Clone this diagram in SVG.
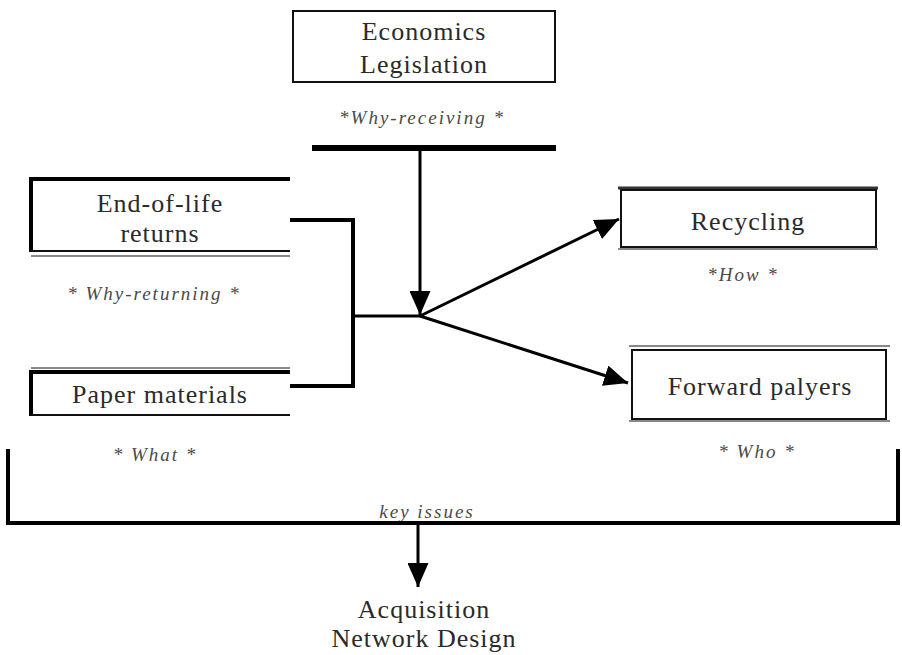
<svg xmlns="http://www.w3.org/2000/svg" width="902" height="655" viewBox="0 0 902 655">
<defs>
<style>
.t{font-family:'Liberation Serif','DejaVu Serif',serif;font-size:26px;letter-spacing:1px;fill:#2a2a2a;text-anchor:middle}
.i{font-family:'Liberation Serif','DejaVu Serif',serif;font-size:19px;letter-spacing:2px;font-style:italic;fill:#4a4a4a;text-anchor:middle}
.box{fill:#fff;stroke:#111;stroke-width:2}
.ln{fill:none;stroke:#000;stroke-width:4}
.gr{stroke:#888;stroke-width:2;fill:none}
</style>
<marker id="ah" markerWidth="8" markerHeight="7" refX="8" refY="3.5" orient="auto" markerUnits="strokeWidth">
<path d="M0,0 L8,3.5 L0,7 z" fill="#000"/>
</marker>
</defs>
<rect width="902" height="655" fill="#fff"/>

<g id="economics">
<rect class="box" x="293" y="11" width="262" height="71"/>
<text class="t" x="424" y="40">Economics</text>
<text class="t" x="424" y="73">Legislation</text>
</g>

<g id="end-of-life">
<path class="ln" d="M290,179 H31 V252" stroke-width="3"/>
<line x1="31" y1="251" x2="290" y2="251" stroke="#111" stroke-width="2"/>
<line class="gr" x1="31" y1="256" x2="290" y2="256"/>
<text class="t" x="160" y="212">End-of-life</text>
<text class="t" x="160" y="242">returns</text>
</g>

<g id="paper">
<line class="gr" x1="31" y1="368" x2="290" y2="368"/>
<path class="ln" d="M290,372 H31 V416" stroke-width="3"/>
<line x1="31" y1="415" x2="290" y2="415" stroke="#111" stroke-width="2"/>
<text class="t" x="160" y="403">Paper materials</text>
</g>

<g id="recycling">
<line x1="618" y1="188" x2="878" y2="188" stroke="#333" stroke-width="3"/>
<rect class="box" x="621" y="190" width="255" height="57"/>
<line class="gr" x1="618" y1="249" x2="878" y2="249"/>
<text class="t" x="748" y="230">Recycling</text>
</g>

<g id="forward">
<line class="gr" x1="629" y1="346" x2="890" y2="346"/>
<rect class="box" x="632" y="350" width="254" height="69"/>
<line class="gr" x1="629" y1="421" x2="890" y2="421"/>
<text class="t" x="760" y="395">Forward palyers</text>
</g>

<g id="acquisition">
<text class="t" x="424" y="618">Acquisition</text>
<text class="t" x="424" y="647">Network Design</text>
</g>

<g id="labels">
<text class="i" x="422" y="124">*Why-receiving *</text>
<text class="i" x="154" y="300">* Why-returning *</text>
<text class="i" x="743" y="281">*How *</text>
<text class="i" x="155" y="461">* What *</text>
<text class="i" x="757" y="458">* Who *</text>
<text class="i" x="427" y="518">key issues</text>
</g>

<g id="connectors">
<line x1="312" y1="148" x2="556" y2="148" stroke="#000" stroke-width="6"/>
<line x1="420" y1="148" x2="420" y2="315" stroke="#000" stroke-width="3" marker-end="url(#ah)"/>
<path class="ln" d="M290,220 H353 V386 H290"/>
<line x1="353" y1="316" x2="421" y2="316" stroke="#000" stroke-width="3"/>
<line x1="420" y1="316" x2="619" y2="219" stroke="#000" stroke-width="3" marker-end="url(#ah)"/>
<line x1="420" y1="316" x2="628" y2="383" stroke="#000" stroke-width="3" marker-end="url(#ah)"/>
<path class="ln" d="M8,449 V523 H898 V449"/>
<line x1="418" y1="523" x2="418" y2="587" stroke="#000" stroke-width="3" marker-end="url(#ah)"/>
</g>
</svg>
